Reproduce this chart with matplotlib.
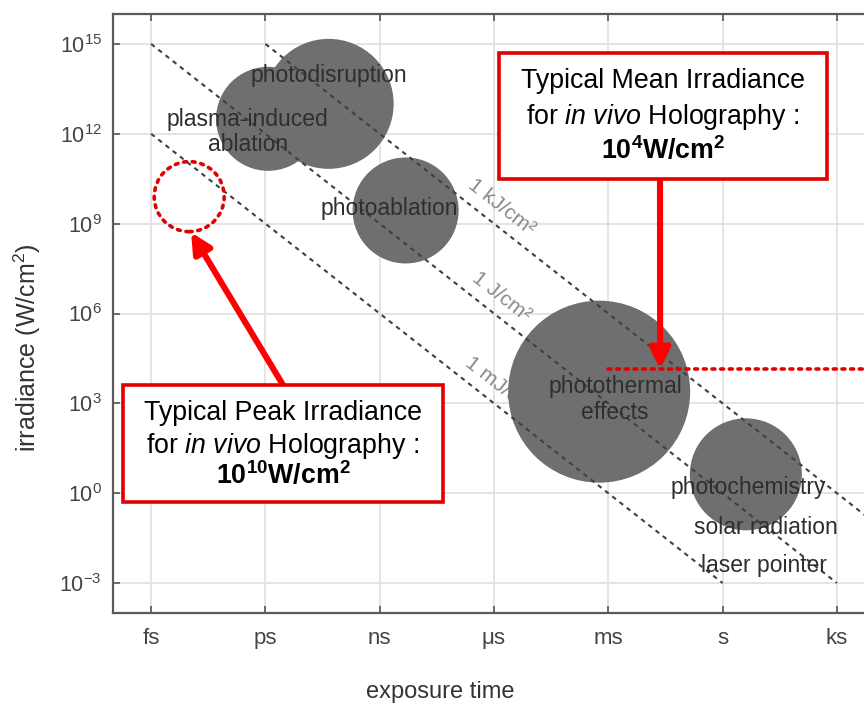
import numpy as np
import matplotlib.pyplot as plt
from matplotlib.patches import Rectangle

plt.rcParams['font.family'] = ['Liberation Sans', 'DejaVu Sans']
plt.rcParams['mathtext.fontset'] = 'custom'
plt.rcParams['mathtext.rm'] = 'Liberation Sans'
plt.rcParams['mathtext.it'] = 'Liberation Sans:italic'
plt.rcParams['mathtext.bf'] = 'Liberation Sans:bold'

# axis ticks
time_ticks = [1e-15, 1e-12, 1e-9, 1e-6, 1e-3, 1e0, 1e3]
time_labels = ['fs', 'ps', 'ns', 'μs', 'ms', 's', 'ks']
irr_ticks = [1e-3, 1e0, 1e3, 1e6, 1e9, 1e12, 1e15]
irr_labels = [r'$10^{-3}$', r'$10^{0}$', r'$10^{3}$', r'$10^{6}$',
              r'$10^{9}$', r'$10^{12}$', r'$10^{15}$']

# lines of constant fluence (J/cm2), drawn inside t >= 1 fs and 1e-3 <= I <= 1e15
fluences = [1e3, 1e0, 1e-3]
fluence_labels = ['1 kJ/cm²', '1 J/cm²', '1 mJ/cm²']
line_t_min = 1e-15
line_irr_max = 1e15
line_irr_min = 1e-3

# interaction regimes (bubbles)
regime_time = [10**-11.93, 10**-10.34, 10**-8.32, 10**-3.24, 10**0.61]
regime_irr = [10**12.5, 10**13.0, 10**9.44, 10**3.39, 10**0.63]
regime_radius = [52, 65, 53, 91, 56]

# regime labels
label_text = ['photodisruption', 'plasma-induced\nablation', 'photoablation',
              'photothermal\neffects', 'photochemistry', 'solar radiation',
              'laser pointer']
label_time = [10**-10.34, 10**-12.46, 10**-8.74, 10**-2.82, 10**0.667,
              10**1.14, 10**1.09]
label_irr = [10**13.94, 10**12.06, 10**9.51, 10**3.12, 10**0.196,
             10**-1.13, 10**-2.43]

# holography values
peak_time = 1e-14
peak_irr = 8e9
mean_irr = 1.4e4
mean_start = 1e-3

W, H = 864, 706
fig = plt.figure(figsize=(W / 100, H / 100), dpi=100)
ax = fig.add_axes([113 / W, 93 / H, 762 / W, 599 / H])


def fxy(px, py):
    return px / W, 1 - py / H


ax.set_xscale('log')
ax.set_yscale('log')
ax.set_xlim(1e-16, 1e4)
ax.set_ylim(1e-4, 1e16)
ax.set_xticks(time_ticks)
ax.set_xticklabels(time_labels)
ax.set_yticks(irr_ticks)
ax.set_yticklabels(irr_labels)
ax.minorticks_off()
ax.tick_params(direction='in', length=5, width=1.2, color='#555555',
               labelsize=15.5, labelcolor='#444444', top=True, right=True)
ax.tick_params(axis='x', pad=11, labelsize=16)
ax.tick_params(axis='y', pad=8)
ax.grid(True, color='#e2e2e2', lw=1.3)
ax.set_axisbelow(True)
for s in ax.spines.values():
    s.set_color('#5a5a5a')
    s.set_linewidth(1.6)

ax.set_xlabel('exposure time', fontsize=17, color='#333333')
ax.set_ylabel(r'irradiance (W/cm$^2$)', fontsize=18, color='#333333')
ax.xaxis.set_label_coords((440 - 113) / 762, (613 - 681) / 599)
ax.yaxis.set_label_coords((43 - 113) / 762, (613 - 348) / 599)

# bubbles
sizes = [(2 * r * 0.72) ** 2 for r in regime_radius]
ax.scatter(regime_time, regime_irr, s=sizes, color='#6f6f6f', edgecolors='none',
           zorder=2)

# fluence lines and their labels
lab_t = 10**-5.8
for f, lab in zip(fluences, fluence_labels):
    t0 = max(line_t_min, f / line_irr_max)
    t1 = f / line_irr_min
    tt = np.array([t0, t1])
    ax.plot(tt, f / tt, color='#404040', lw=1.5,
            linestyle=(0, (2.2, 2.2)), zorder=3)
    ax.text(lab_t, f / lab_t * 10**0.75, lab, rotation=-38, ha='center',
            va='center', fontsize=15, color='#8a8a8a', zorder=1)

for t, i, lab in zip(label_time, label_irr, label_text):
    ax.text(t, i, lab, ha='center', va='center', fontsize=16.5,
            color='#2e2e2e', linespacing=1.15, zorder=4)

# holography markers
pk = ax.scatter([peak_time], [peak_irr], s=(2 * 35 * 0.72) ** 2,
                facecolors='none', edgecolors='#e00000', linewidths=2.6,
                linestyles=[(0, (0.8, 1.6))], zorder=5)
pk.set_capstyle('round')
ax.plot([mean_start, 1e4], [mean_irr, mean_irr], color='#e00000', lw=2.6,
        linestyle=(0, (0.8, 1.6)), dash_capstyle='round', zorder=5)

# annotation boxes
for (x0, y0, x1, y1) in [(499, 53, 827, 179), (123, 385, 443, 502)]:
    bx, by = fxy(x0, y1)
    fig.add_artist(Rectangle((bx, by), (x1 - x0) / W, (y1 - y0) / H,
                             transform=fig.transFigure, facecolor='white',
                             edgecolor='#e00000', lw=2.6, zorder=6))

mean_lines = ['Typical Mean Irradiance',
              r'for $\mathit{in\ vivo}$ Holography :',
              r'$\mathbf{10^{4}W/cm^{2}}$']
peak_lines = ['Typical Peak Irradiance',
              r'for $\mathit{in\ vivo}$ Holography :',
              r'$\mathbf{10^{10}W/cm^{2}}$']
for txt, py in zip(mean_lines, [81, 117, 151]):
    fig.text(*fxy(663, py), txt, ha='center', va='center', fontsize=19.3,
             color='black', zorder=7)
for txt, py in zip(peak_lines, [413, 446, 476]):
    fig.text(*fxy(283, py), txt, ha='center', va='center', fontsize=19.3,
             color='black', zorder=7)

arrow = dict(arrowstyle='-|>', color='#ff0000', lw=4.4, mutation_scale=30,
             shrinkA=0, shrinkB=0)
ax.annotate('', xy=(10**-13.95, 10**8.71), xycoords='data',
            xytext=fxy(283, 385), textcoords='figure fraction',
            arrowprops=arrow, zorder=8)
ax.annotate('', xy=(10**-1.64, mean_irr), xycoords='data',
            xytext=fxy(660, 179), textcoords='figure fraction',
            arrowprops=arrow, zorder=8)

fig.savefig('out.png', dpi=100)
